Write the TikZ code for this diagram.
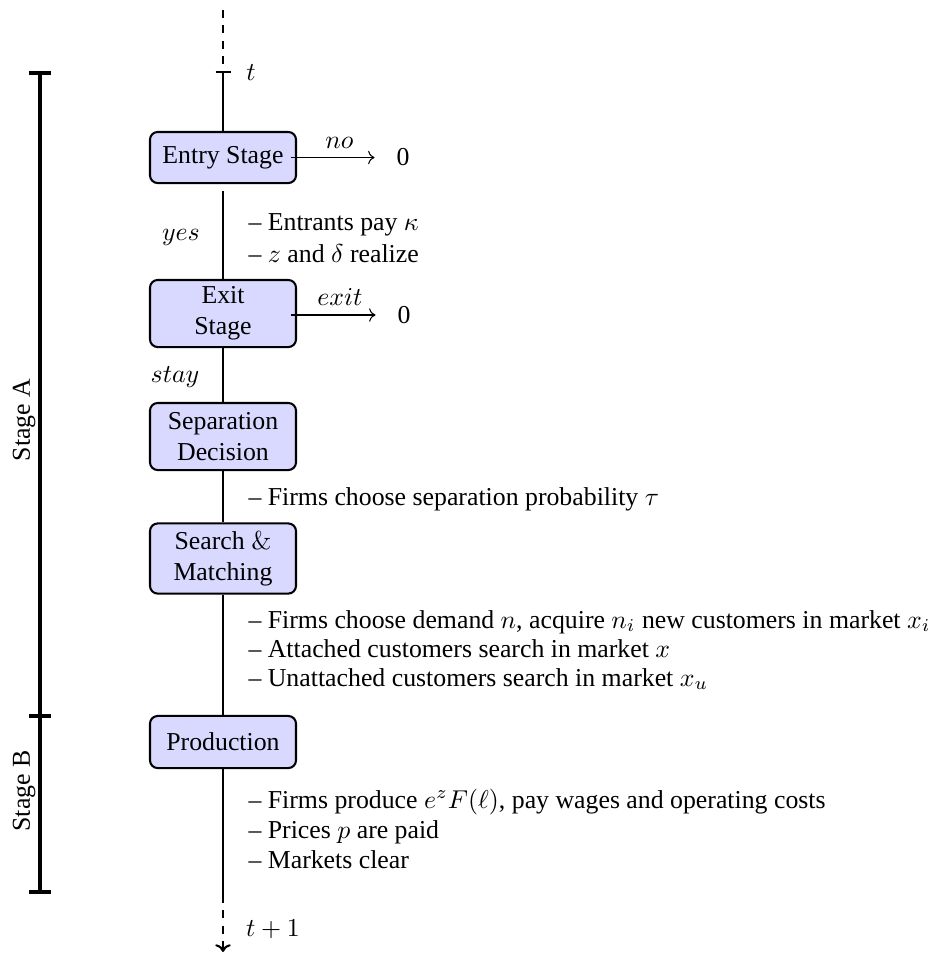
\documentclass[tikz,border=0pt]{standalone}
\usepackage[no-math]{fontspec}
\setmainfont{Liberation Serif}
\usetikzlibrary{arrows.meta}
\tikzset{
  stagebox/.style={draw, line width=0.8pt, rounded corners=3pt, fill=blue!15,
    minimum width=56.6pt, align=center, inner sep=2pt},
  mainline/.style={line width=0.8pt},
  brline/.style={line width=1.2pt},
  thinarrow/.style={line width=0.4pt, ->, shorten >=5pt},
  bulletline/.style={anchor=base west, inner sep=0pt},
  steplabel/.style={inner sep=0pt},
}
\begin{document}
\begin{tikzpicture}[x=0.3876pt, y=-0.3876pt]
\useasboundingbox (0,0) rectangle (931,953);

% boxes
\node[stagebox, minimum height=19.8pt] (entry) at (223,157.5) {Entry Stage};
\node[stagebox, minimum height=26pt] (exit) at (223,313.5) {Exit\\Stage};
\node[stagebox, minimum height=26pt] (sep) at (223,436.5) {Separation\\Decision};
\node[stagebox, minimum height=27.2pt] (search) at (223,558.5) {Search $\&$\\Matching};
\node[stagebox, minimum height=20.2pt] (prod) at (223,742) {Production};

% outcome nodes
\node (zeroA) at (403,157.5) {0};
\node (zeroB) at (404,315) {0};

% timeline coordinates
\coordinate (top) at (223,10);
\coordinate (tick) at (223,72);
\coordinate (gapstart) at (223,191);
\coordinate (botsolid) at (223,895);
\coordinate (botend) at (223,952);

% timeline
\draw[mainline, dashed] (top) -- (tick);
\draw[mainline] (tick) -- (entry.north);
\draw[mainline] (tick) ++(-7.5,0) -- ++(15,0);
\draw[mainline] (gapstart) -- (exit.north);
\draw[mainline] (exit.south) -- (sep.north);
\draw[mainline] (sep.south) -- (search.north);
\draw[mainline] (search.south) -- (prod.north);
\draw[mainline] (prod.south) -- (botsolid);
\draw[mainline, dashed, -{To[length=3pt,width=6pt]}] (botsolid) -- (botend);

% time labels
\node[steplabel] (tlab) at (251,73) {$t$};
\node[steplabel] (t1lab) at (273,929) {$t+1$};

% side arrows
\draw[thinarrow] ([xshift=-2.2pt]entry.east) -- node[above] {$no$} (zeroA.west);
\draw[thinarrow] ([xshift=-2.2pt]exit.east |- zeroB.west) -- node[above] {$exit$} (zeroB.west);

% branch labels
\node[steplabel] (yes) at (181,237) {$yes$};
\node[steplabel] (stay) at (175,377) {$stay$};

% bullet texts
\node[bulletline] (l1) at (248,230) {-- Entrants pay $\kappa$};
\node[bulletline] (l2) at (248,262) {-- $z$ and $\delta$ realize};
\node[bulletline] (l3) at (248,505) {-- Firms choose separation probability $\tau$};
\node[bulletline] (l4) at (248,628) {-- Firms choose demand $n$, acquire $n_i$ new customers in market $x_i$};
\node[bulletline] (l5) at (248,657) {-- Attached customers search in market $x$};
\node[bulletline] (l6) at (248,686) {-- Unattached customers search in market $x_u$};
\node[bulletline] (l7) at (248,808) {-- Firms produce $e^zF(\ell)$, pay wages and operating costs};
\node[bulletline] (l8) at (248,838) {-- Prices $p$ are paid};
\node[bulletline] (l9) at (248,868) {-- Markets clear};

% stage brackets
\coordinate (bA) at (40,73);
\coordinate (bM) at (40,716);
\coordinate (bB) at (40,892);
\draw[brline] (bA) -- (bB);
\draw[brline] (bA) ++(-11,0) -- ++(22,0);
\draw[brline] (bM) ++(-11,0) -- ++(22,0);
\draw[brline] (bB) ++(-11,0) -- ++(22,0);
\node[rotate=90] (stA) at (24,420) {Stage A};
\node[rotate=90] (stB) at (24,791) {Stage B};
\end{tikzpicture}
\end{document}
